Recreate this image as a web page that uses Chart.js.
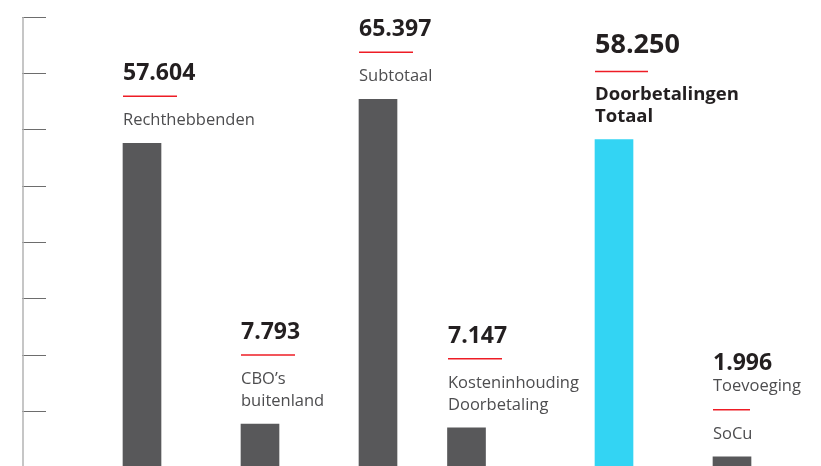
<!DOCTYPE html>
<html>
<head>
<meta charset="utf-8">
<script src="https://cdn.jsdelivr.net/npm/chart.js@4"></script>
<style>
  html, body { margin: 0; padding: 0; background: #fff; overflow: hidden; }
  #wrap { width: 821px; height: 468px; }
</style>
</head>
<body>
<div id="wrap"><canvas id="chart"></canvas></div>
<script>
// categories, split in lines as printed above each bar
const categories = [
    ["Rechthebbenden"],
    ["CBO’s", "buitenland"],
    ["Subtotaal"],
    ["Kosteninhouding", "Doorbetaling"],
    ["Doorbetalingen", "Totaal"],
    ["Toevoeging", "SoCu"],
];
const values = [57604, 7793, 65397, 7147, 58250, 1996];
// where each bar sits along the x axis (the 4th one is pulled in)
const slots = [0, 1, 2, 2.75, 4, 5];
const yTicks = [0, 10000, 20000, 30000, 40000, 50000, 60000, 70000, 80000];

const highlight = 4;
const fmt = (v) => String(v).replace(/\B(?=(\d{3})+(?!\d))/g, ".");

const barLabels = {
    id: "barLabels",
    afterDatasetsDraw(chart, args, opts) {
        const ctx = chart.ctx;
        const meta = chart.getDatasetMeta(0);
        ctx.save();
        ctx.textAlign = "left";
        ctx.textBaseline = "alphabetic";
        meta.data.forEach((bar, i) => {
            const left = Math.round(bar.x - bar.width / 2);
            const strong = i === highlight;
            const cut = opts.ruleAfter[i];
            const pre = categories[i].slice(0, cut);
            const post = categories[i].slice(cut);

            ctx.font = strong ? "bold 18.5px 'Open Sans'" : "16.5px 'Open Sans'";
            ctx.fillStyle = strong ? "#231f20" : "#4d4d4f";
            let y = bar.y - 18;
            for (let k = post.length - 1; k >= 0; k--) {
                ctx.fillText(post[k], left, y);
                if (k > 0) y -= 22;
            }
            const ruleY = y - (strong ? 28 : 29);
            ctx.strokeStyle = "#ee1c25";
            ctx.lineWidth = 1.5;
            ctx.beginPath();
            ctx.moveTo(left, ruleY);
            ctx.lineTo(left + opts.ruleLen[i], ruleY);
            ctx.stroke();

            let vy = ruleY - (strong ? 19 : 16);
            if (pre.length) {
                let py = ruleY - 19;
                for (let k = pre.length - 1; k >= 0; k--) {
                    ctx.fillText(pre[k], left, py);
                    if (k > 0) py -= 22;
                }
                vy = py - 21;
            }
            ctx.font = "bold " + (strong ? 27 : 23) + "px 'Open Sans'";
            ctx.fillStyle = "#231f20";
            ctx.fillText(fmt(values[i]), left, vy);
        });
        ctx.restore();
    },
};

const axisLine = {
    id: "axisLine",
    beforeDatasetsDraw(chart) {
        const ctx = chart.ctx;
        const y = chart.scales.y;
        ctx.save();
        ctx.strokeStyle = "#b3b3b3";
        ctx.lineWidth = 1.5;
        ctx.beginPath();
        ctx.moveTo(23, y.getPixelForValue(80000));
        ctx.lineTo(23, y.getPixelForValue(0));
        ctx.stroke();
        ctx.restore();
    },
};

new Chart(document.getElementById("chart"), {
    type: "bar",
    data: {
        datasets: [
            {
                data: values.map((v, i) => ({ x: slots[i], y: v })),
                backgroundColor: values.map((v, i) => (i === highlight ? "#33d4f3" : "#58585a")),
                barThickness: 38,
            },
        ],
    },
    options: {
        animation: false,
        responsive: true,
        maintainAspectRatio: false,
        devicePixelRatio: 1,
        layout: { padding: { top: 17, left: 22, right: 0, bottom: 0 } },
        plugins: {
            legend: { display: false },
            tooltip: { enabled: false },
            barLabels: {
                ruleAfter: [0, 0, 0, 0, 0, 1],
                ruleLen: [54, 54, 54, 54, 53, 37],
            },
        },
        scales: {
            x: {
                type: "linear",
                offset: false,
                min: -96 / 118,
                max: -96 / 118 + 775 / 118,
                display: false,
            },
            y: {
                min: 0,
                max: 80000,
                afterBuildTicks: (scale) => {
                    scale.ticks = yTicks.map((v) => ({ value: v }));
                },
                afterFit: (scale) => {
                    scale.width = 24;
                },
                ticks: { display: false },
                border: { display: false },
                grid: {
                    drawOnChartArea: false,
                    drawTicks: true,
                    tickLength: 24,
                    color: "#6d6d6d",
                    lineWidth: 1,
                },
            },
        },
    },
    plugins: [axisLine, barLabels],
});
</script>
</body>
</html>
